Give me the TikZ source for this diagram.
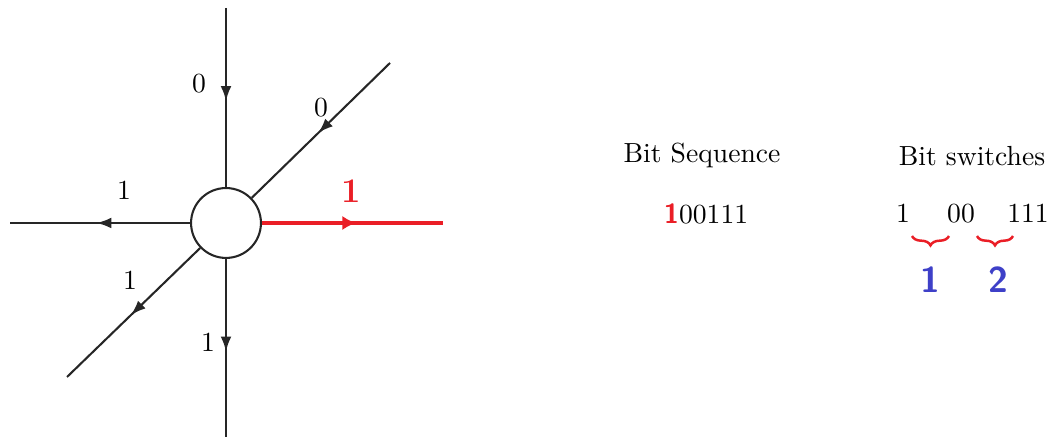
\documentclass[tikz,border=0pt]{standalone}
\usetikzlibrary{arrows.meta,decorations.markings,decorations.pathreplacing}
\definecolor{redN}{RGB}{234,30,38}
\definecolor{blueN}{RGB}{62,64,200}
\tikzset{
  edge/.style={line width=0.75pt,draw=black!85,
    postaction={decorate},
    decoration={markings,mark=at position 0.52 with {\arrow{Latex[length=5.4pt,width=3.9pt]}}}},
  redge/.style={line width=1.15pt,draw=redN,color=redN,
    postaction={decorate},
    decoration={markings,mark=at position 0.52 with {\arrow{Latex[length=5pt,width=5.2pt]}}}},
  lbl/.style={inner sep=0pt,anchor=base,font=\normalsize},
  brc/.style={draw=redN,line width=0.9pt,decorate,decoration={brace,mirror,amplitude=3.4pt}},
  bnum/.style={inner sep=0pt,anchor=base,text=blueN,font=\fontsize{13}{15}\selectfont\sffamily\bfseries}
}
\begin{document}
\begin{tikzpicture}[x=0.362pt,y=-0.362pt]
\useasboundingbox (0,0) rectangle (1050,439);
% central circle
\node[circle,draw=black!85,line width=0.75pt,minimum size=25.3pt,inner sep=0pt] (c) at (226,223) {};
% free ends
\coordinate (top) at (226,8);
\coordinate (bot) at (226,437);
\coordinate (lft) at (10,223);
\coordinate (rgt) at (443,223);
\coordinate (ne) at (390,63);
\coordinate (sw) at (67,377);
% connectors
\draw[edge] (top) -- (c);
\draw[edge] (ne) -- (c);
\draw[edge] (c) -- (lft);
\draw[redge] (c) -- (rgt);
\draw[edge] (c) -- (sw);
\draw[edge] (c) -- (bot);
% edge labels
\node[lbl] (l0a) at (199,93) {0};
\node[lbl] (l0b) at (321,117) {0};
\node[lbl] (l1a) at (124,200) {1};
\node[lbl,text=redN,font=\fontsize{12.5}{14}\selectfont\bfseries] (l1r) at (351,203) {1};
\node[lbl] (l1b) at (130,290) {1};
\node[lbl] (l1c) at (208,352) {1};
% right side texts
\node[lbl] (bs) at (702,163) {Bit Sequence};
\node[lbl] (seq) at (706,224) {{\sffamily\bfseries\color{redN}1}00111};
\node[lbl] (bw) at (972,166) {Bit switches};
\node[lbl] (s1) at (903,223) {1};
\node[lbl] (s2) at (961,223) {00};
\node[lbl] (s3) at (1028,223) {111};
% braces
\coordinate (b1a) at (912,236);
\coordinate (b1b) at (949,236);
\coordinate (b2a) at (977,236);
\coordinate (b2b) at (1013,236);
\draw[brc] (b1a) -- (b1b);
\draw[brc] (b2a) -- (b2b);
\node[bnum] (n1) at (930,293) {1};
\node[bnum] (n2) at (998,293) {2};
\end{tikzpicture}
\end{document}
